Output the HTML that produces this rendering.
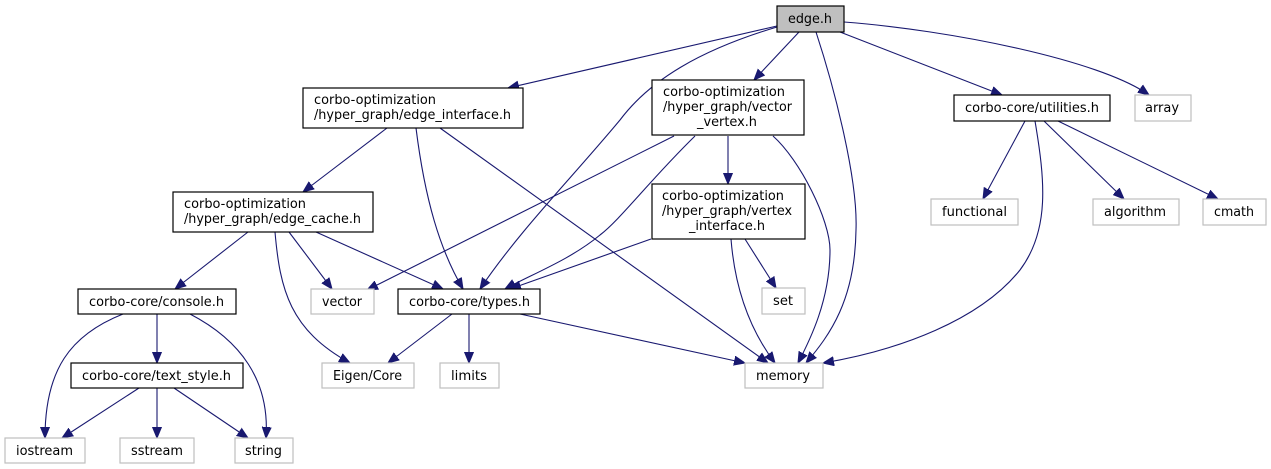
<!DOCTYPE html>
<html><head><meta charset="utf-8"><style>
html,body{margin:0;padding:0;background:#fff;}
svg{display:block;}
text{font-family:"DejaVu Sans Condensed","DejaVu Sans","Liberation Sans",sans-serif;font-size:13.5px;fill:#000;}
.n{fill:#fff;stroke:#000;stroke-width:1.2;}
.g{fill:#fff;stroke:#bfbfbf;stroke-width:1.2;}
.e{fill:none;stroke:#191970;stroke-width:1.1;marker-end:url(#a);}
</style></head><body>
<svg width="1271" height="469" viewBox="0 0 1271 469" xmlns="http://www.w3.org/2000/svg">
<defs><marker id="a" markerUnits="userSpaceOnUse" markerWidth="12" markerHeight="10" refX="11" refY="5" orient="auto"><path d="M0,0.5 L11,5 L0,9.5 z" fill="#191970" stroke="#191970"/></marker></defs>

<path class="e" d="M777,26 L508,88"/>
<path class="e" d="M777,27 C700,50 650,80 620,120 C570,180 520,230 480,289"/>
<path class="e" d="M799,32 L754,80"/>
<path class="e" d="M816,32 C835,90 858,180 856,230 C855,300 830,335 806,363"/>
<path class="e" d="M840,32 L1002,95"/>
<path class="e" d="M844,22 C950,30 1100,60 1149,95"/>
<path class="e" d="M387,128 L303,192"/>
<path class="e" d="M416,128 C425,200 440,250 463,289"/>
<path class="e" d="M440,128 L768,363"/>
<path class="e" d="M674,136 L367,290"/>
<path class="e" d="M695,136 C650,180 620,220 600,235 C570,260 530,275 505,289"/>
<path class="e" d="M728,136 L728,184"/>
<path class="e" d="M773,136 C800,160 830,220 830,250 C830,300 810,340 798,363"/>
<path class="e" d="M651,239 L510,289"/>
<path class="e" d="M731,239 C735,290 750,330 775,363"/>
<path class="e" d="M745,239 L776,288"/>
<path class="e" d="M248,232 L175,289"/>
<path class="e" d="M289,232 L332,289"/>
<path class="e" d="M316,232 L443,289"/>
<path class="e" d="M275,232 C280,290 290,330 350,363"/>
<path class="e" d="M1025,121 L983,199"/>
<path class="e" d="M1044,121 L1124,199"/>
<path class="e" d="M1058,121 L1218,199"/>
<path class="e" d="M1035,121 C1045,180 1050,230 1020,270 C980,320 900,350 823,363"/>
<path class="e" d="M123,314 C70,335 45,370 45,438"/>
<path class="e" d="M157,314 L157,363"/>
<path class="e" d="M190,314 C240,340 270,380 266,438"/>
<path class="e" d="M139,388 L62,438"/>
<path class="e" d="M157,388 L157,438"/>
<path class="e" d="M174,388 L248,438"/>
<path class="e" d="M452,314 L388,363"/>
<path class="e" d="M469,314 L469,363"/>
<path class="e" d="M520,314 L745,363"/>

<rect x="777" y="6" width="67" height="26" fill="#bfbfbf" stroke="#000" stroke-width="1.2"/>
<text x="788" y="23" textLength="44" lengthAdjust="spacingAndGlyphs">edge.h</text>

<rect class="n" x="303" y="88" width="220" height="40"/>
<text x="314" y="104" textLength="122" lengthAdjust="spacingAndGlyphs">corbo-optimization</text>
<text x="314" y="119" textLength="197" lengthAdjust="spacingAndGlyphs">/hyper_graph/edge_interface.h</text>

<rect class="n" x="652" y="80" width="152" height="55"/>
<text x="663" y="96" textLength="122" lengthAdjust="spacingAndGlyphs">corbo-optimization</text>
<text x="663" y="111" textLength="129" lengthAdjust="spacingAndGlyphs">/hyper_graph/vector</text>
<text x="697" y="126" textLength="60" lengthAdjust="spacingAndGlyphs">_vertex.h</text>

<rect class="n" x="954" y="95" width="156" height="26"/>
<text x="965" y="112" textLength="134" lengthAdjust="spacingAndGlyphs">corbo-core/utilities.h</text>

<rect class="g" x="1135" y="95" width="56" height="26"/>
<text x="1145" y="112" textLength="34" lengthAdjust="spacingAndGlyphs">array</text>

<rect class="n" x="173" y="192" width="200" height="40"/>
<text x="184" y="208" textLength="122" lengthAdjust="spacingAndGlyphs">corbo-optimization</text>
<text x="184" y="223" textLength="177" lengthAdjust="spacingAndGlyphs">/hyper_graph/edge_cache.h</text>

<rect class="n" x="652" y="184" width="153" height="55"/>
<text x="662" y="200" textLength="122" lengthAdjust="spacingAndGlyphs">corbo-optimization</text>
<text x="662" y="215" textLength="130" lengthAdjust="spacingAndGlyphs">/hyper_graph/vertex</text>
<text x="689" y="230" textLength="76" lengthAdjust="spacingAndGlyphs">_interface.h</text>

<rect class="g" x="931" y="199" width="87" height="26"/>
<text x="942" y="216" textLength="65" lengthAdjust="spacingAndGlyphs">functional</text>
<rect class="g" x="1093" y="199" width="86" height="26"/>
<text x="1104" y="216" textLength="62" lengthAdjust="spacingAndGlyphs">algorithm</text>
<rect class="g" x="1203" y="199" width="63" height="26"/>
<text x="1214" y="216" textLength="40" lengthAdjust="spacingAndGlyphs">cmath</text>

<rect class="n" x="78" y="289" width="158" height="25"/>
<text x="89" y="306" textLength="135" lengthAdjust="spacingAndGlyphs">corbo-core/console.h</text>
<rect class="g" x="311" y="289" width="63" height="25"/>
<text x="322" y="306" textLength="40" lengthAdjust="spacingAndGlyphs">vector</text>
<rect class="n" x="398" y="289" width="142" height="25"/>
<text x="409" y="306" textLength="121" lengthAdjust="spacingAndGlyphs">corbo-core/types.h</text>
<rect class="g" x="762" y="288" width="43" height="26"/>
<text x="773" y="305" textLength="20" lengthAdjust="spacingAndGlyphs">set</text>

<rect class="n" x="71" y="363" width="172" height="25"/>
<text x="82" y="380" textLength="149" lengthAdjust="spacingAndGlyphs">corbo-core/text_style.h</text>
<rect class="g" x="322" y="363" width="92" height="25"/>
<text x="333" y="380" textLength="69" lengthAdjust="spacingAndGlyphs">Eigen/Core</text>
<rect class="g" x="440" y="363" width="59" height="25"/>
<text x="451" y="380" textLength="36" lengthAdjust="spacingAndGlyphs">limits</text>
<rect class="g" x="745" y="363" width="78" height="25"/>
<text x="756" y="380" textLength="54" lengthAdjust="spacingAndGlyphs">memory</text>

<rect class="g" x="5" y="438" width="80" height="25"/>
<text x="16" y="455" textLength="57" lengthAdjust="spacingAndGlyphs">iostream</text>
<rect class="g" x="120" y="438" width="74" height="25"/>
<text x="131" y="455" textLength="52" lengthAdjust="spacingAndGlyphs">sstream</text>
<rect class="g" x="235" y="438" width="58" height="25"/>
<text x="245" y="455" textLength="37" lengthAdjust="spacingAndGlyphs">string</text>
</svg>
</body></html>
